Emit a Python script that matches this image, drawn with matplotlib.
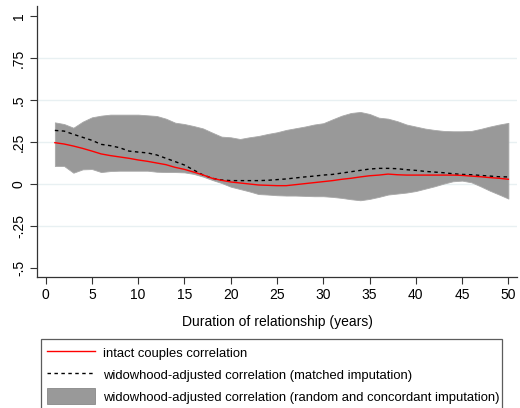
import numpy as np
import matplotlib
matplotlib.use("Agg")
import matplotlib.pyplot as plt
from matplotlib.patches import Patch
from matplotlib.lines import Line2D

plt.rcParams["font.family"] = ["Liberation Sans", "DejaVu Sans"]

years = list(range(1, 51))

band_hi = [0.367, 0.357, 0.335, 0.371, 0.397, 0.407, 0.413, 0.413, 0.413, 0.413,
           0.409, 0.405, 0.389, 0.365, 0.357, 0.345, 0.331, 0.306, 0.282, 0.278,
           0.268, 0.278, 0.286, 0.298, 0.308, 0.322, 0.332, 0.342, 0.354, 0.362,
           0.385, 0.407, 0.423, 0.429, 0.417, 0.395, 0.389, 0.374, 0.354, 0.342,
           0.330, 0.322, 0.316, 0.314, 0.314, 0.316, 0.328, 0.342, 0.354, 0.364]
band_lo = [0.107, 0.107, 0.067, 0.087, 0.089, 0.071, 0.077, 0.079, 0.079, 0.079,
           0.079, 0.073, 0.071, 0.071, 0.069, 0.060, 0.044, 0.024, 0.006, -0.016,
           -0.030, -0.044, -0.060, -0.063, -0.067, -0.069, -0.069, -0.071, -0.073, -0.073,
           -0.077, -0.083, -0.091, -0.097, -0.089, -0.077, -0.063, -0.057, -0.051, -0.042,
           -0.028, -0.014, 0.002, 0.016, 0.020, 0.010, -0.014, -0.040, -0.063, -0.087]
intact = [0.246, 0.238, 0.226, 0.212, 0.196, 0.179, 0.169, 0.161, 0.153, 0.143,
          0.135, 0.125, 0.115, 0.099, 0.087, 0.071, 0.054, 0.034, 0.022, 0.012,
          0.006, 0.000, -0.006, -0.008, -0.010, -0.010, -0.004, 0.002, 0.008, 0.014,
          0.020, 0.028, 0.034, 0.042, 0.049, 0.053, 0.059, 0.055, 0.053, 0.053,
          0.053, 0.053, 0.053, 0.053, 0.051, 0.047, 0.043, 0.038, 0.034, 0.028]
matched = [0.319, 0.315, 0.296, 0.278, 0.260, 0.236, 0.228, 0.216, 0.196, 0.190,
           0.185, 0.173, 0.153, 0.133, 0.113, 0.083, 0.054, 0.034, 0.024, 0.020,
           0.020, 0.020, 0.020, 0.022, 0.026, 0.030, 0.036, 0.042, 0.047, 0.053,
           0.057, 0.065, 0.073, 0.081, 0.089, 0.093, 0.093, 0.091, 0.085, 0.081,
           0.075, 0.071, 0.067, 0.061, 0.057, 0.055, 0.051, 0.047, 0.043, 0.042]

yticks = [-0.5, -0.25, 0, 0.25, 0.5, 0.75, 1]
ytick_labels = ["-.5", "-.25", "0", ".25", ".5", ".75", "1"]
xticks = [0, 5, 10, 15, 20, 25, 30, 35, 40, 45, 50]

fig = plt.figure(figsize=(5.2, 4.08), dpi=100)
ax = fig.add_axes([37/520, 1 - 277/408, 480/520, 271/408])

for g in [-0.25, 0, 0.25, 0.5, 0.75]:
    ax.axhline(g, color="#e8f0f2", lw=1, zorder=0)

ax.fill_between(years, band_lo, band_hi, color="#999999", lw=0.6,
                edgecolor="#a8a8a8", zorder=1)
ax.plot(years, intact, color="red", lw=1.0, zorder=3)
ax.plot(years, matched, color="black", lw=1.0, ls=(0, (2.5, 2.5)), zorder=2)

ax.set_xlim(-0.93, 50.93)
ax.set_ylim(-0.554, 1.06)
ax.set_xticks(xticks)
ax.set_yticks(yticks)
ax.set_yticklabels(ytick_labels, rotation=90, va="center")
ax.tick_params(labelsize=10, length=5, width=0.8, color="#333333", pad=3)
for s in ["top", "right"]:
    ax.spines[s].set_visible(False)
for s in ["left", "bottom"]:
    ax.spines[s].set_color("#333333")
    ax.spines[s].set_linewidth(0.9)
ax.set_xlabel("Duration of relationship (years)", fontsize=10, labelpad=9)

handles = [
    Line2D([], [], color="red", lw=1.0),
    Line2D([], [], color="black", lw=1.0, ls=(0, (2.5, 2.5))),
    Patch(facecolor="#999999", edgecolor="#888888", lw=0.6),
]
labels = [
    "intact couples correlation",
    "widowhood-adjusted correlation (matched imputation)",
    "widowhood-adjusted correlation (random and concordant imputation)",
]
leg = fig.legend(handles, labels, loc="upper left",
                 bbox_to_anchor=(41/520, 0, 461/520, 1 - 339/408),
                 mode="expand", fontsize=9.4, frameon=True, fancybox=False,
                 handlelength=3.7, handleheight=1.5, handletextpad=0.6,
                 labelspacing=0.45, borderpad=0.45, borderaxespad=0)
leg.get_frame().set_edgecolor("#333333")
leg.get_frame().set_linewidth(0.9)

fig.savefig("out.png", dpi=100)
